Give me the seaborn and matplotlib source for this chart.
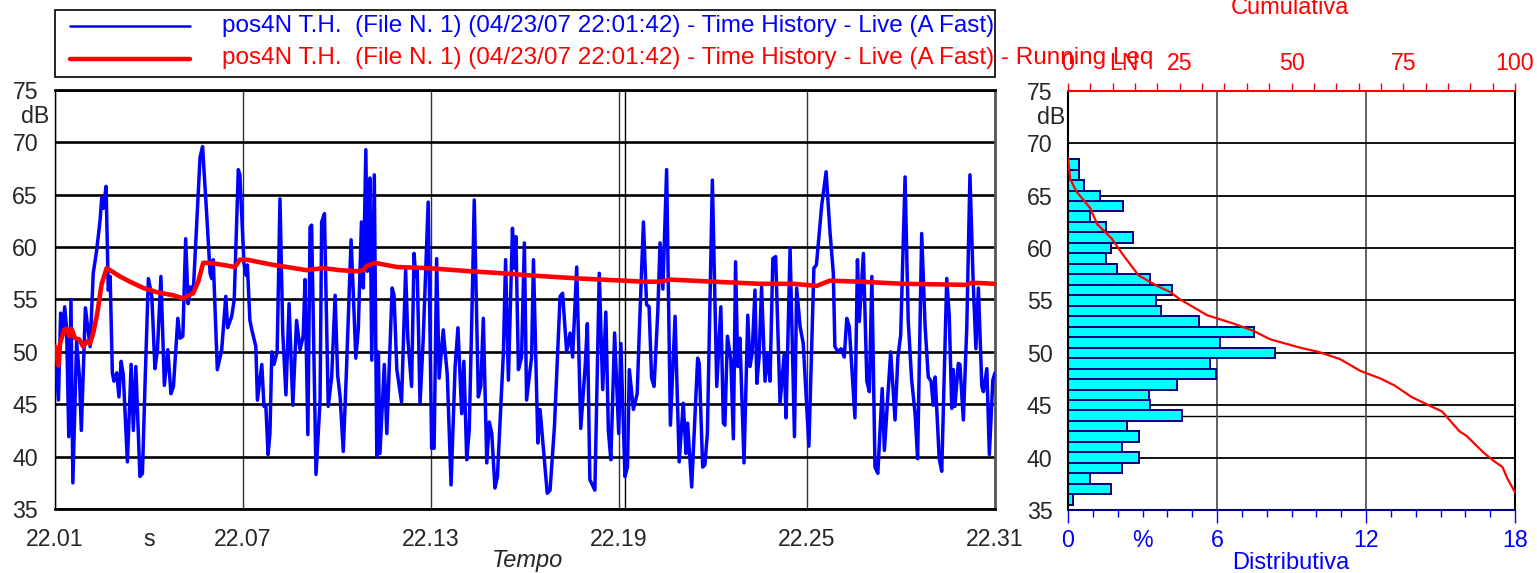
import numpy as np
import seaborn as sns
import matplotlib.pyplot as plt
from matplotlib import transforms
from matplotlib.lines import Line2D
from matplotlib.patches import Rectangle

sns.set_style("white")
plt.rcParams['font.family'] = ['Liberation Sans', 'DejaVu Sans']

# Time history (livello istantaneo A Fast), tempo in unità dell'asse
tempo = [22.0100, 22.0111, 22.0118, 22.0125, 22.0131, 22.0137, 22.0144, 22.0151, 22.0157, 22.0169,
         22.0178, 22.0184, 22.0197, 22.0212, 22.0222, 22.0233, 22.0244, 22.0249, 22.0254, 22.0263,
         22.0270, 22.0276, 22.0283, 22.0288, 22.0297, 22.0304, 22.0311, 22.0318, 22.0331, 22.0343,
         22.0350, 22.0358, 22.0371, 22.0379, 22.0388, 22.0398, 22.0409, 22.0419, 22.0427, 22.0438,
         22.0449, 22.0460, 22.0470, 22.0478, 22.0492, 22.0499, 22.0508, 22.0517, 22.0525, 22.0533,
         22.0541, 22.0552, 22.0563, 22.0571, 22.0584, 22.0595, 22.0600, 22.0605, 22.0618, 22.0632,
         22.0645, 22.0651, 22.0664, 22.0672, 22.0685, 22.0690, 22.0703, 22.0710, 22.0714, 22.0722,
         22.0729, 22.0741, 22.0746, 22.0760, 22.0767, 22.0773, 22.0780, 22.0786, 22.0792, 22.0799,
         22.0809, 22.0818, 22.0827, 22.0837, 22.0847, 22.0859, 22.0871, 22.0882, 22.0892, 22.0898,
         22.0907, 22.0914, 22.0919, 22.0933, 22.0946, 22.0951, 22.0960, 22.0972, 22.0983, 22.0994,
         22.1002, 22.1010, 22.1020, 22.1029, 22.1045, 22.1052, 22.1060, 22.1068, 22.1078, 22.1084,
         22.1092, 22.1097, 22.1105, 22.1111, 22.1119, 22.1127, 22.1132, 22.1137, 22.1151, 22.1159,
         22.1176, 22.1182, 22.1191, 22.1206, 22.1219, 22.1226, 22.1238, 22.1246, 22.1251, 22.1256,
         22.1265, 22.1275, 22.1291, 22.1302, 22.1310, 22.1318, 22.1326, 22.1339, 22.1352, 22.1364,
         22.1377, 22.1386, 22.1398, 22.1405, 22.1414, 22.1422, 22.1432, 22.1438, 22.1451, 22.1459,
         22.1467, 22.1478, 22.1486, 22.1494, 22.1504, 22.1512, 22.1531, 22.1538, 22.1547, 22.1560,
         22.1565, 22.1571, 22.1579, 22.1589, 22.1598, 22.1605, 22.1621, 22.1627, 22.1641, 22.1648,
         22.1658, 22.1671, 22.1680, 22.1694, 22.1712, 22.1720, 22.1733, 22.1744, 22.1752, 22.1765,
         22.1778, 22.1792, 22.1799, 22.1807, 22.1823, 22.1837, 22.1848, 22.1858, 22.1866, 22.1874,
         22.1886, 22.1899, 22.1906, 22.1919, 22.1927, 22.1933, 22.1946, 22.1958, 22.1965, 22.1978,
         22.1988, 22.1996, 22.2004, 22.2012, 22.2024, 22.2031, 22.2040, 22.2052, 22.2064, 22.2079,
         22.2092, 22.2105, 22.2114, 22.2119, 22.2132, 22.2151, 22.2156, 22.2167, 22.2174, 22.2182,
         22.2198, 22.2212, 22.2225, 22.2233, 22.2238, 22.2246, 22.2257, 22.2265, 22.2272, 22.2279,
         22.2286, 22.2299, 22.2311, 22.2318, 22.2325, 22.2334, 22.2340, 22.2347, 22.2355, 22.2366,
         22.2375, 22.2382, 22.2391, 22.2400, 22.2414, 22.2427, 22.2433, 22.2446, 22.2460, 22.2467,
         22.2478, 22.2488, 22.2506, 22.2522, 22.2530, 22.2547, 22.2561, 22.2573, 22.2584, 22.2589,
         22.2599, 22.2609, 22.2619, 22.2627, 22.2635, 22.2653, 22.2661, 22.2667, 22.2680, 22.2691,
         22.2699, 22.2707, 22.2717, 22.2726, 22.2740, 22.2747, 22.2767, 22.2781, 22.2790, 22.2799,
         22.2813, 22.2823, 22.2834, 22.2845, 22.2853, 22.2866, 22.2877, 22.2887, 22.2896, 22.2903,
         22.2909, 22.2922, 22.2930, 22.2946, 22.2954, 22.2962, 22.2967, 22.2972, 22.2983, 22.2988,
         22.2999, 22.3010, 22.3020, 22.3030, 22.3039, 22.3047, 22.3058, 22.3063, 22.3074, 22.3082,
         22.3093, 22.3100]
livello = [50.5, 45.4, 53.7, 52.2, 54.3, 52.2, 41.9, 55.0, 37.5, 51.0,
           47.6, 42.5, 54.2, 50.5, 57.5, 59.7, 62.6, 64.7, 63.7, 65.8,
           55.9, 57.2, 48.0, 47.2, 48.0, 45.7, 49.1, 47.8, 39.5, 48.8,
           42.5, 48.6, 38.1, 38.4, 47.6, 57.0, 55.3, 48.4, 50.2, 57.2,
           46.8, 50.2, 46.0, 46.7, 53.2, 51.3, 51.5, 60.8, 54.6, 56.2,
           55.6, 62.0, 68.6, 69.6, 63.2, 57.5, 57.0, 58.8, 48.3, 50.2,
           55.3, 52.3, 53.4, 55.0, 67.4, 66.9, 58.5, 57.3, 58.3, 53.0,
           52.0, 50.5, 45.4, 48.8, 44.8, 44.8, 40.2, 42.2, 50.0, 48.8,
           50.0, 64.6, 51.8, 45.9, 54.6, 44.9, 53.0, 50.2, 51.5, 56.9,
           42.1, 61.9, 62.1, 38.3, 45.4, 62.4, 63.2, 44.8, 47.6, 55.4,
           47.8, 45.7, 40.5, 47.3, 60.7, 55.6, 49.4, 52.2, 62.4, 56.1,
           69.3, 57.7, 66.6, 49.2, 66.9, 40.0, 50.0, 40.3, 48.8, 42.2,
           56.1, 55.4, 48.3, 45.2, 57.8, 51.3, 46.7, 59.4, 57.2, 57.8,
           45.1, 51.1, 64.3, 40.8, 40.8, 58.9, 47.5, 52.1, 47.8, 37.3,
           48.6, 52.3, 44.1, 49.1, 39.7, 42.5, 55.6, 64.5, 45.7, 46.7,
           53.2, 39.4, 43.3, 42.2, 37.0, 38.1, 49.9, 58.8, 47.3, 61.8,
           58.0, 61.0, 48.3, 49.5, 60.4, 45.4, 49.5, 58.8, 41.3, 44.5,
           41.0, 36.5, 36.8, 42.9, 55.3, 55.6, 50.0, 51.8, 49.5, 58.1,
           42.7, 48.6, 52.7, 37.8, 36.8, 57.5, 46.4, 53.8, 42.5, 39.7,
           51.8, 42.2, 50.8, 38.1, 39.0, 48.3, 44.5, 46.0, 52.1, 62.4,
           54.5, 54.3, 47.5, 46.7, 54.0, 60.4, 56.0, 67.4, 43.0, 53.4,
           39.5, 45.1, 40.3, 43.2, 37.1, 49.4, 48.9, 39.0, 39.2, 42.2,
           66.4, 46.7, 54.3, 43.2, 43.0, 51.5, 49.2, 41.7, 58.6, 48.6,
           51.3, 39.4, 53.5, 48.6, 49.9, 55.9, 47.0, 49.5, 56.2, 47.2,
           49.9, 47.2, 58.9, 59.1, 45.1, 49.7, 43.7, 59.9, 41.9, 56.1,
           52.4, 50.8, 41.0, 58.0, 58.3, 64.0, 67.2, 61.6, 57.5, 50.5,
           50.0, 50.3, 49.5, 53.2, 52.4, 43.7, 58.8, 52.9, 59.4, 47.2,
           46.2, 57.2, 39.0, 38.4, 46.5, 40.6, 50.0, 43.5, 49.5, 51.6,
           66.7, 53.0, 47.3, 44.1, 39.8, 61.3, 52.4, 47.6, 47.2, 44.9,
           47.6, 39.8, 38.6, 57.0, 53.4, 44.6, 48.3, 44.8, 48.9, 48.8,
           43.5, 52.4, 66.9, 57.0, 50.3, 56.1, 46.7, 46.2, 48.4, 40.2,
           47.3, 48.0]

# Running Leq
tempo_leq = [22.0100, 22.0111, 22.0116, 22.0129, 22.0138, 22.0146, 22.0153, 22.0164, 22.0177, 22.0190,
             22.0201, 22.0212, 22.0222, 22.0235, 22.0249, 22.0265, 22.0281, 22.0307, 22.0339, 22.0382,
             22.0425, 22.0478, 22.0509, 22.0541, 22.0557, 22.0573, 22.0595, 22.0637, 22.0674, 22.0690,
             22.0712, 22.0797, 22.0861, 22.0903, 22.0956, 22.1010, 22.1063, 22.1084, 22.1095, 22.1121,
             22.1191, 22.1286, 22.1424, 22.1531, 22.1616, 22.1776, 22.1914, 22.1978, 22.2031, 22.2063,
             22.2201, 22.2350, 22.2456, 22.2531, 22.2573, 22.2669, 22.2807, 22.3010, 22.3026, 22.3100]
leq = [50.5, 48.7, 50.8, 52.1, 52.2, 51.5, 52.2, 51.3, 51.2, 50.5,
       51.0, 50.8, 51.8, 53.7, 56.5, 58.0, 57.7, 57.2, 56.7, 56.1,
       55.7, 55.4, 55.1, 55.6, 56.7, 58.5, 58.5, 58.3, 58.1, 58.8,
       58.8, 58.3, 58.0, 57.8, 58.0, 57.8, 57.7, 57.8, 58.2, 58.5,
       58.1, 58.0, 57.7, 57.5, 57.3, 57.0, 56.8, 56.7, 56.7, 56.9,
       56.7, 56.5, 56.5, 56.3, 56.8, 56.7, 56.5, 56.4, 56.6, 56.5]

# Distributiva (% per classe di 1 dB)
classi_db = list(range(36, 69))
distributiva = [0.21, 1.73, 0.87, 2.18, 2.85, 2.17, 2.85, 2.39, 4.60, 3.29,
                3.27, 4.38, 5.95, 5.70, 8.35, 6.13, 7.48, 5.28, 3.73, 3.53,
                4.17, 3.30, 1.97, 1.53, 1.74, 2.63, 1.54, 0.89, 2.20, 1.30,
                0.66, 0.44, 0.44]

# Cumulativa (LN %)
cum_pct = [0, 0.5, 1.9, 5.0, 6.5, 9.8, 12.4, 15.8, 19.9, 22.9, 25.1, 31.1, 37.0, 41.5, 45.2,
           51.9, 56.0, 60.9, 65.3, 69.9, 73.0, 76.8, 80.7, 83.7, 87.6, 89.1, 92.9, 95.2, 97.2,
           98.3, 100]
cum_db = [68.6, 66.6, 65.4, 63.8, 62.3, 60.9, 59.3, 57.4, 56.4, 55.8, 55.1, 53.6, 52.8, 52.1, 51.3,
          50.5, 50.1, 49.4, 48.3, 47.55, 46.9, 45.8, 45.0, 44.4, 42.5, 42.1, 40.5, 39.7, 39.1,
          38.0, 36.7]

legenda = ["pos4N T.H.  (File N. 1) (04/23/07 22:01:42) - Time History - Live (A Fast)",
           "pos4N T.H.  (File N. 1) (04/23/07 22:01:42) - Time History - Live (A Fast) - Running Leq"]

FS = 16.7
W, H = 1537, 573
fig = plt.figure(figsize=(W / 100, H / 100), dpi=100)
ax = fig.add_axes([55 / W, 1 - 509 / H, 940 / W, 419 / H])
ax_r = fig.add_axes([1068 / W, 1 - 510 / H, 447 / W, 419 / H])

# ---- time history ----
sns.lineplot(x=tempo, y=livello, color="#0000FF", lw=2.5, estimator=None, ax=ax, zorder=3)
sns.lineplot(x=tempo_leq, y=leq, color="#FF0000", lw=3.3, estimator=None, ax=ax, zorder=4)
ax.set_xlim(22.01, 22.31)
ax.set_ylim(35, 75)
ax.set_xlabel("")
ax.set_ylabel("")

xmaj = [22.01, 22.07, 22.13, 22.19, 22.25, 22.31]
ax.set_xticks(xmaj)
ax.set_xticklabels(["%.2f" % v for v in xmaj])
ax.set_xticks(np.linspace(22.01, 22.31, 26), minor=True)
ax.set_yticks(np.arange(35, 76, 5))
ax.set_yticks(np.arange(35, 76, 1), minor=True)
ax.tick_params(axis="x", which="major", length=9.5, width=1, color="#3a3ab0", labelsize=FS, pad=4.5)
ax.tick_params(axis="x", which="minor", length=5, width=1, color="#3a3ab0")
ax.tick_params(axis="y", which="major", length=11, width=1, color="#6a6aa8", labelsize=FS, pad=1.2)
ax.tick_params(axis="y", which="minor", length=5.5, width=1, color="#3a3ab0")
ax.grid(axis="y", which="major", color="black", lw=1.9)
ax.grid(axis="x", which="major", color="#333333", lw=1.0)
ax.axvline(22.192, color="black", lw=1.0, zorder=2)
for s in ["top", "bottom"]:
    ax.spines[s].set_color("black")
    ax.spines[s].set_linewidth(2)
ax.spines["left"].set_color("black")
ax.spines["left"].set_linewidth(1)
ax.spines["right"].set_color("#555555")
ax.spines["right"].set_linewidth(2)

lab_off = transforms.offset_copy(ax.get_xaxis_transform(), fig=fig, y=-14, units="points")
ax.text(22.04, 0, "s", transform=lab_off, ha="center", va="top", fontsize=FS)
ax.text(-0.006, 72.5, "dB", transform=ax.get_yaxis_transform(), ha="right", va="center", fontsize=FS)

# ---- distributiva ----
sns.histplot(y=classi_db, weights=distributiva, binwidth=1, binrange=(35.5, 68.5),
             color="#00FFFF", edgecolor="#000080", linewidth=1.4, alpha=1, ax=ax_r)
ax_r.set_xlim(0, 18)
ax_r.set_ylim(35, 75)
ax_r.set_xlabel("")
ax_r.set_ylabel("")
ax_r.set_axisbelow(True)
ax_r.set_xticks([0, 6, 12, 18])
ax_r.set_xticks(np.arange(0, 19, 1), minor=True)
ax_r.set_yticks(np.arange(35, 76, 5))
ax_r.tick_params(axis="x", which="major", length=9.5, width=1, colors="#0000FF", labelsize=FS, pad=4.5)
ax_r.tick_params(axis="x", which="minor", length=5, width=1, color="#0000FF")
ax_r.tick_params(axis="y", which="major", length=10, width=1, color="#777777", labelsize=FS, pad=1.2)
ax_r.grid(axis="y", which="major", color="black", lw=1.3)
ax_r.grid(axis="x", which="major", color="#555555", lw=1.3)
ax_r.axhline(44, color="black", lw=1.0, zorder=0.5)
for s in ["left", "right"]:
    ax_r.spines[s].set_color("black")
    ax_r.spines[s].set_linewidth(1.5)
ax_r.spines["bottom"].set_color("#000080")
ax_r.spines["bottom"].set_linewidth(1.5)
ax_r.spines["top"].set_visible(False)

lab_off_r = transforms.offset_copy(ax_r.get_xaxis_transform(), fig=fig, y=-14, units="points")
ax_r.text(3, 0, "%", transform=lab_off_r, ha="center", va="top", fontsize=FS, color="#0000FF")
ax_r.text(-0.006, 72.5, "dB", transform=ax_r.get_yaxis_transform(), ha="right", va="center", fontsize=FS)

# ---- cumulativa ----
ax_top = ax_r.twiny()
sns.lineplot(x=cum_pct, y=cum_db, sort=False, estimator=None, color="#FF0000", lw=1.6, ax=ax_top)
ax_top.set_xlim(0, 100)
ax_top.set_ylim(35, 75)
ax_top.set_xlabel("")
ax_top.set_ylabel("")
ax_top.set_xticks([0, 25, 50, 75, 100])
ax_top.set_xticks(np.arange(0, 101, 5), minor=True)
ax_top.tick_params(axis="x", which="major", length=6, width=1, colors="#FF0000", labelsize=FS, pad=5.5)
ax_top.tick_params(axis="x", which="minor", length=6, width=1, color="#FF0000")
for s in ["left", "right", "bottom"]:
    ax_top.spines[s].set_visible(False)
ax_top.spines["top"].set_color("#FF0000")
ax_top.spines["top"].set_linewidth(1.5)
top_off = transforms.offset_copy(ax_top.get_xaxis_transform(), fig=fig, y=11.5, units="points")
ax_top.text(12.5, 1, "LN", transform=top_off, ha="center", va="bottom", fontsize=FS, color="#FF0000")

# ---- legenda manuale ----
fig.patches.append(Rectangle((55 / W, 1 - 77 / H), 940 / W, 67 / H, transform=fig.transFigure,
                             fill=False, edgecolor="black", lw=1.2))
fig.lines.append(Line2D([70 / W, 190 / W], [1 - 26 / H] * 2, transform=fig.transFigure,
                        color="#0000FF", lw=1.8))
fig.lines.append(Line2D([70 / W, 190 / W], [1 - 59 / H] * 2, transform=fig.transFigure,
                        color="#FF0000", lw=3.2))
fig.text(222 / W, 1 - 26 / H, legenda[0], color="#0000FF", fontsize=17.5, va="center")
fig.text(222 / W, 1 - 58 / H, legenda[1], color="#FF0000", fontsize=17.5, va="center")

fig.text(527 / W, 1 - 561 / H, "Tempo", style="italic", ha="center", va="center", fontsize=17)
fig.text(1291 / W, 1 - 563 / H, "Distributiva", color="#0000FF", ha="center", va="center", fontsize=17)
fig.text(1290 / W, 1 - 8 / H, "Cumulativa", color="#FF0000", ha="center", va="center", fontsize=17)

fig.savefig("out.png", dpi=100)
